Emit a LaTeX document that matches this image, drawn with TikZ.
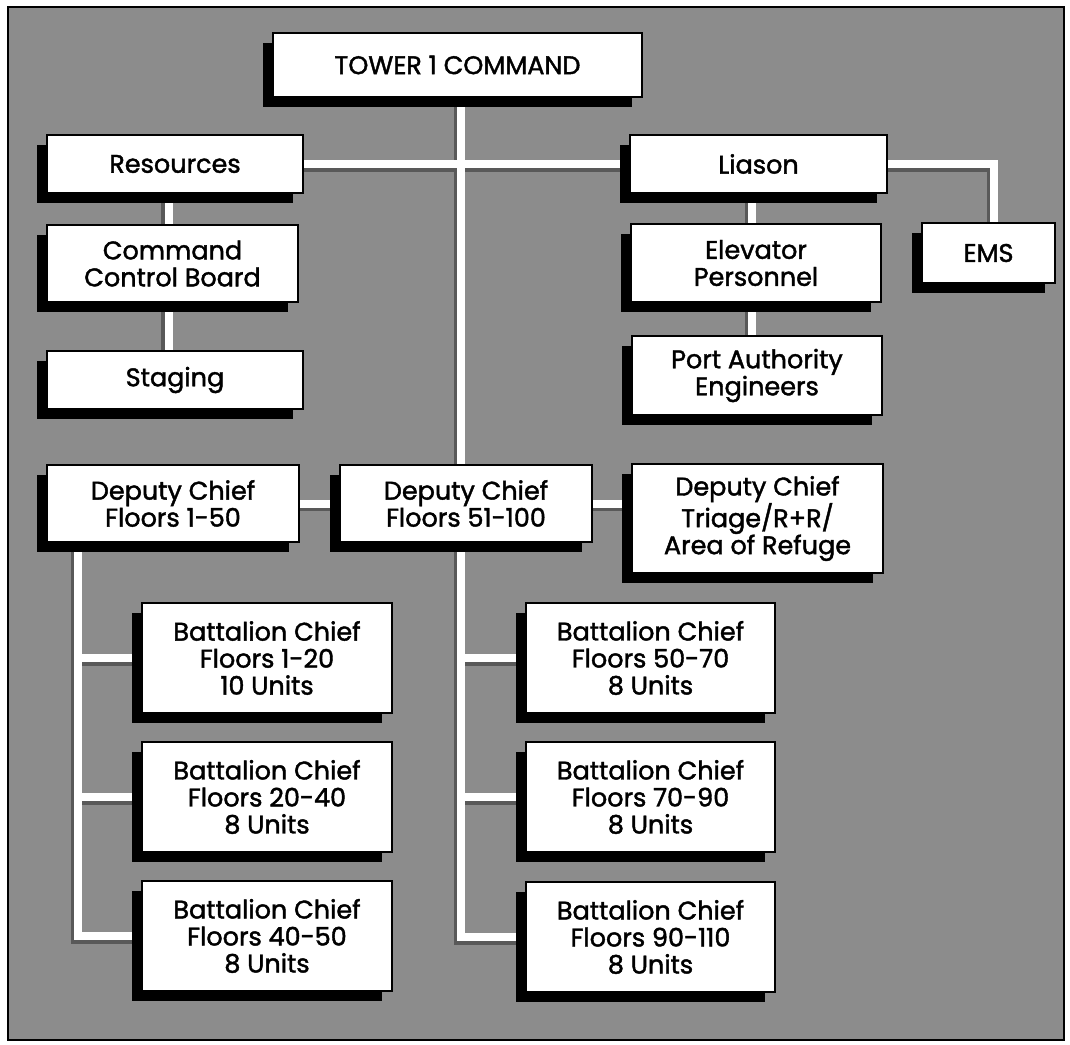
\documentclass[tikz,border=0pt]{standalone}
\usepackage{fontspec}
\setmainfont{Poppins}[FakeBold=1.6]
\usetikzlibrary{shadows,backgrounds,calc}
\pgfdeclarelayer{edges}
\pgfsetlayers{background,edges,main}
\definecolor{bggray}{rgb}{0.55,0.55,0.55}
\begin{document}
\begin{tikzpicture}[x=1pt,y=-1pt,
  box/.style={draw=black, line width=2pt, fill=white, inner sep=0pt, align=center,
    font=\fontsize{25.5}{27}\selectfont,
    drop shadow={shadow xshift=-10pt, shadow yshift=-10pt, fill=black, opacity=1}},
  conn/.style={draw=white, line width=8pt,
    preaction={draw=black!65, line width=8pt, transform canvas={xshift=-3.5pt,yshift=-3.5pt}}}
]
\useasboundingbox (0,0) rectangle (1070,1044);
\begin{pgfonlayer}{background}
  \fill[white] (0,0) rectangle (1070,1044);
  \draw[line width=2pt, fill=bggray] (8,7) rectangle (1064,1040);
\end{pgfonlayer}

\node[box, minimum width=369pt, minimum height=64pt] (tower) at (457.5,65) {TOWER 1 COMMAND};
\node[box, minimum width=256pt, minimum height=58pt] (res) at (175,164) {Resources};
\node[box, minimum width=257pt, minimum height=58pt] (lia) at (758.5,164) {Liason};
\node[box, minimum width=133pt, minimum height=60pt] (ems) at (988.5,253) {EMS};
\node[box, minimum width=251pt, minimum height=77pt] (ccb) at (172.5,263.5) {Command\\Control Board};
\node[box, minimum width=250pt, minimum height=78pt] (elev) at (756,263) {Elevator\\Personnel};
\node[box, minimum width=256pt, minimum height=58pt] (stg) at (175,380) {Staging};
\node[box, minimum width=250pt, minimum height=79pt] (port) at (757,375.5) {Port Authority\\Engineers};
\node[box, minimum width=252pt, minimum height=77pt] (dc1) at (173,503.5) {Deputy Chief\\Floors 1-50};
\node[box, minimum width=252pt, minimum height=77pt] (dc2) at (466,503.5) {Deputy Chief\\Floors 51-100};
\node[box, minimum width=251pt, minimum height=109pt] (dc3) at (757.5,518.5) {Deputy Chief\\Triage/R+R/\\Area of Refuge};
\node[box, minimum width=250pt, minimum height=110pt] (b1) at (267,658) {Battalion Chief\\Floors 1-20\\10 Units};
\node[box, minimum width=250pt, minimum height=110pt] (b2) at (267,797) {Battalion Chief\\Floors 20-40\\8 Units};
\node[box, minimum width=250pt, minimum height=110pt] (b3) at (267,936) {Battalion Chief\\Floors 40-50\\8 Units};
\node[box, minimum width=249pt, minimum height=110pt] (b4) at (650.5,658) {Battalion Chief\\Floors 50-70\\8 Units};
\node[box, minimum width=249pt, minimum height=110pt] (b5) at (650.5,797) {Battalion Chief\\Floors 70-90\\8 Units};
\node[box, minimum width=249pt, minimum height=110pt] (b6) at (650.5,937) {Battalion Chief\\Floors 90-110\\8 Units};

\coordinate (mv) at ($(tower.south)+(3.5,0)$);
\coordinate (lv) at (78,542);

\begin{pgfonlayer}{edges}
  \draw[conn]
    (mv) |- (b6.west)
    (mv |- b4.west) -- (b4.west)
    (mv |- b5.west) -- (b5.west)
    (res.east) -- (lia.west)
    (lia.east) -| ($(ems.north)+(5.5,0)$)
    ($(ccb.north)+(-4,0)$) -- ($(ccb.north |- res.south)+(-4,0)$)
    ($(stg.north -| ccb.south)+(-4,0)$) -- ($(ccb.south)+(-4,0)$)
    ($(elev.north)+(-4,0)$) -- ($(elev.north |- lia.south)+(-4,0)$)
    ($(port.north -| elev.south)+(-4,0)$) -- ($(elev.south)+(-4,0)$)
    (dc1.east) -- (dc2.west)
    (dc2.east) -- (dc2.east -| dc3.west)
    (lv) |- (b3.west)
    (lv |- b1.west) -- (b1.west)
    (lv |- b2.west) -- (b2.west);
\end{pgfonlayer}
\end{tikzpicture}
\end{document}
